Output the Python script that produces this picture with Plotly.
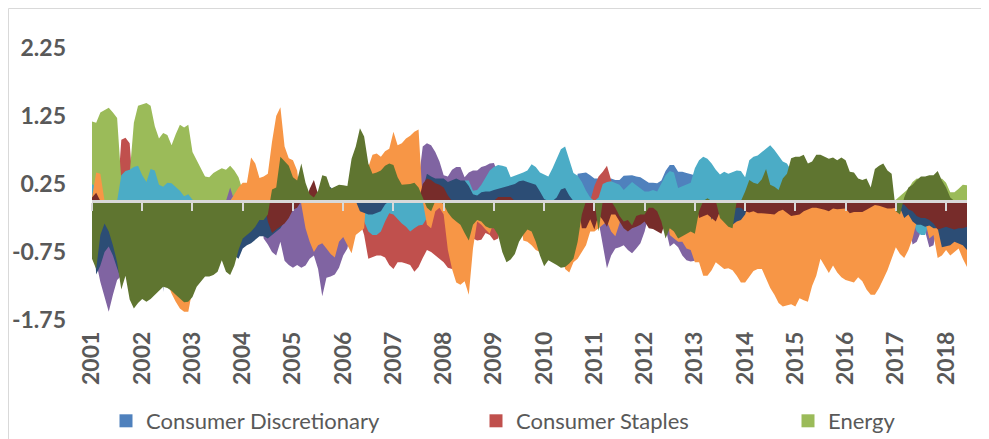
import pandas as pd
import plotly.graph_objects as go

# monthly categories, Jan 2001 .. Jun 2018
months = pd.date_range("2001-01-01", periods=210, freq="MS").strftime("%Y-%m").tolist()
year_ticks = months[::12]
year_labels = [m[:4] for m in year_ticks]

y_ticks = [-1.75, -0.75, 0.25, 1.25, 2.25]
y_labels = ["-1.75", "-0.75", "0.25", "1.25", "2.25"]

# one row per year (2001 .. 2018)
cons_disc = [
    0, 0, 0, 0, 0, 0, 0, 0, 0, 0, 0, 0,
    0, 0, 0, 0, 0, 0, 0, 0, 0, 0, 0, 0,
    0, 0, 0, 0, 0, 0, 0, 0, 0, 0, 0, 0,
    0, 0, 0, 0, 0, 0, 0, 0, 0, 0, 0, 0,
    0, 0, 0, 0, 0, 0, 0, 0, 0, 0, 0, 0,
    0, 0, 0, 0, 0, 0, 0, 0, 0, 0, 0, 0,
    0, 0, 0, 0, 0, 0, 0, 0, 0, 0, 0, 0,
    0, 0, 0, 0, 0, 0, 0, 0, 0, 0, 0, 0,
    0, 0, 0, 0, 0, 0, 0, 0, 0, 0, 0, 0,
    0, 0, 0, 0, 0, 0, 0, 0, 0.40, 0.41, 0.42, 0.38,
    0.33, 0.33, 0.30, 0.30, 0.33, 0.31, 0.31, 0.37, 0.38, 0.38, 0.36, 0.35,
    0.31, 0.27, 0.27, 0.26, 0.30, 0.44, 0.53, 0.53, 0.43, 0.43, 0.41, 0.40,
    0.38, 0.30, 0.20, 0, 0, 0, 0, 0, 0, 0, 0, 0,
    0, 0, 0, 0, 0, 0, 0, 0, 0, 0, 0, 0,
    0, 0, 0, 0, 0, 0, 0, 0, 0, 0, 0, 0,
    0, 0, 0, 0, 0, 0, 0, 0, 0, 0, 0, 0,
    0, 0, 0, 0, 0, 0, 0, 0, 0, 0, 0, 0,
    0, 0, 0, 0, 0, 0,
]

cons_staples = [
    0, 0, 0, 0, 0, 0, 0, 0.90, 0.93, 0.85, 0, 0,
    0, 0, 0, 0, 0, 0, 0, 0, 0, 0, 0, 0,
    0, 0, 0, 0, 0, 0, 0, 0, 0, 0, 0, 0,
    0, 0, 0, 0, 0, 0, 0, 0, 0, 0, 0, 0,
    0, 0, 0, 0, 0, 0, 0, 0, 0, 0, 0, 0,
    0, 0, 0, 0, -0.30, -0.50, -0.85, -0.83, -0.80, -0.80, -0.83, -0.94,
    -1.00, -0.90, -0.90, -0.92, -0.94, -1.04, -0.97, -0.84, -0.72, -0.75, -0.80, -0.85,
    -0.90, -0.98, -1.00, -0.90, -0.80, -0.60, -0.50, -0.55, -0.58, -0.57, -0.47, -0.50,
    -0.58, -0.55, -0.30, 0, 0, 0, 0, 0, 0, 0, 0, 0,
    0, 0, 0, 0, 0, 0, 0, 0, 0, 0, 0, 0,
    0.22, 0.36, 0.43, 0.52, 0.31, 0, 0, 0, 0, 0, 0, 0,
    0, 0, 0, 0, 0, 0, 0, 0, 0, 0, 0, 0,
    0, 0, 0, 0, 0, 0, 0, 0, 0, 0, 0, 0,
    0, 0, 0, 0, 0, 0, 0, 0, 0, 0, 0, 0,
    0, 0, 0, 0, 0, 0, 0, 0, 0, 0, 0, 0,
    0, 0, 0, 0, 0, 0, 0, 0, 0, 0, 0, 0,
    0, 0, 0, 0, 0, 0, 0, 0, 0, 0, 0, 0,
    0, 0, 0, 0, 0, 0,
]

energy = [
    1.17, 1.15, 1.30, 1.33, 1.37, 1.30, 1.22, 0.30, 0.30, 0.40, 1.15, 1.40,
    1.42, 1.44, 1.40, 1.10, 0.92, 1.00, 0.97, 0.82, 0.98, 1.12, 1.08, 1.12,
    0.72, 0.60, 0.48, 0.36, 0.35, 0.41, 0.45, 0.48, 0.46, 0.52, 0.45, 0.35,
    0.15, 0, 0, 0, 0, 0, 0, 0, 0, 0, 0, 0,
    0, 0, 0, 0, 0, 0, 0, 0, 0, 0, 0, 0,
    0, 0, 0, 0, 0, 0, 0, 0, 0, 0, 0, 0,
    0, 0, 0, 0, 0, 0, 0, 0, 0, 0, 0, 0,
    0, 0, 0, 0, 0, 0, 0, 0, 0, 0, 0, 0,
    0, 0, 0, 0, 0, 0, 0, 0, 0, 0, 0, 0,
    0, 0, 0, 0, 0, 0, 0, 0, 0, 0, 0, 0,
    0, 0, 0, 0, 0, 0, 0, 0, 0, 0, 0, 0,
    0, 0, 0, 0, 0, 0, 0, 0, 0, 0, 0, 0,
    0, 0, 0, 0, 0, 0, 0, 0, 0, 0, 0, 0,
    0, 0, 0, 0, 0, 0, 0, 0, 0, 0, 0, 0,
    0, 0, 0, 0, 0, 0, 0, 0, 0, 0, 0, 0,
    0, 0, 0, 0, 0, 0, 0, 0, 0, 0, 0, 0,
    0.02, 0.07, 0.12, 0.18, 0.28, 0.33, 0.32, 0.30, 0.30, 0.30, 0.30, 0.33,
    0.27, 0.13, 0.13, 0.18, 0.24, 0.23,
]

financials = [
    0, -0.90, -1.19, -1.43, -1.63, -1.38, -1.16, -1.10, -1.00, 0, 0, 0,
    0, 0, 0, 0, 0, 0, 0, 0, 0, 0, 0, 0,
    0, 0, 0, 0, 0, 0, 0, 0, 0, 0.20, 0, 0,
    0, 0, 0, 0, 0, -0.55, -0.64, -0.75, -0.80, -0.60, -0.88, -0.94,
    -0.98, -0.94, -0.98, -0.95, -0.85, -0.80, -1.00, -1.40, -1.13, -1.11, -1.08, -0.98,
    -0.80, -0.70, -0.40, 0, 0, 0, 0, 0, 0, 0, 0, 0,
    0, 0, 0, 0, 0, 0, 0.30, 0.80, 0.85, 0.82, 0.72, 0.58,
    0.38, 0.36, 0.46, 0.50, 0.50, 0.35, 0.42, 0.45, 0.45, 0.50, 0.52, 0.55,
    0.56, 0.40, 0, 0, 0, 0, 0, 0, 0, 0, 0, 0,
    0, 0, 0, 0, 0, 0, 0, 0, 0, 0, 0, 0,
    0, -0.30, -0.65, -0.99, -0.80, -0.70, -0.68, -0.65, -0.72, -0.77, -0.70, -0.62,
    -0.45, -0.20, 0, 0, 0, -0.40, -0.67, -0.62, -0.68, -0.80, -0.87, -0.89,
    -0.88, -0.50, 0, 0, 0, 0, 0, 0, 0, 0, 0, 0,
    0, 0, 0, 0, 0, 0, 0, 0, 0, 0, 0, 0,
    0, 0, 0, 0, 0, 0, 0, 0, 0, 0, 0, 0,
    0, 0, 0, 0, 0, 0, 0, 0, 0, 0, 0, 0,
    0, 0, 0, -0.30, -0.64, -0.60, -0.45, -0.45, -0.68, -0.65, -0.30, 0,
    0, 0, 0, 0, 0, 0,
]

health_care = [
    0.25, 0.20, 0, 0, 0, 0, 0, 0.38, 0.44, 0.46, 0.50, 0.52,
    0.38, 0.28, 0.47, 0.45, 0.24, 0.21, 0.27, 0.26, 0.20, 0.15, 0.07, 0.10,
    0.02, 0, 0, 0, 0, 0, 0, 0, 0, 0, 0.10, 0,
    0, 0, 0, 0, 0, 0, 0, 0, 0, 0, 0, 0,
    0, 0, 0, 0, 0, 0, 0, 0, 0, 0, 0, 0,
    0, 0, 0, 0, -0.10, -0.30, -0.45, -0.50, -0.50, -0.45, -0.30, -0.18,
    -0.20, -0.27, -0.33, -0.38, -0.45, -0.40, -0.36, -0.35, -0.25, -0.20, -0.10, 0,
    0, 0, 0, 0, 0, 0.30, 0.30, 0.15, 0.16, 0.24, 0.35, 0.45,
    0.50, 0.53, 0.52, 0.50, 0.35, 0.37, 0.40, 0.42, 0.45, 0.54, 0.50, 0.42,
    0.39, 0.36, 0.48, 0.62, 0.76, 0.80, 0.62, 0.41, 0.37, 0.28, 0.15, 0.05,
    0, 0.05, 0.25, 0.28, 0.29, 0.26, 0.24, 0.16, 0.22, 0.28, 0.23, 0.18,
    0.14, 0.14, 0.16, 0.14, 0.26, 0.38, 0.44, 0.42, 0.19, 0.22, 0.24, 0.27,
    0.48, 0.60, 0.65, 0.62, 0.55, 0.46, 0.39, 0.43, 0.40, 0.43, 0.45, 0.44,
    0.35, 0.60, 0.65, 0.67, 0.72, 0.78, 0.82, 0.75, 0.67, 0.58, 0.55, 0.45,
    0.30, 0, 0, 0, 0, 0, 0, 0, 0, 0, 0, 0,
    0, 0, 0, 0, 0, 0, 0, 0, 0, 0, 0, 0,
    0, 0, 0, 0, -0.30, -0.45, -0.50, -0.50, -0.30, 0, 0, 0,
    0, 0, 0, 0, 0, 0,
]

industrials = [
    0.05, 0.42, 0.40, 0, 0, 0, 0, 0, 0, 0, 0, 0,
    0, 0, 0, 0, 0, 0, -1.20, -1.36, -1.48, -1.58, -1.63, -1.63,
    -1.30, 0, 0, 0, 0, 0, 0, 0, 0, 0, 0.10, 0.20,
    0.27, 0.27, 0.64, 0.55, 0.34, 0.36, 0.40, 0.87, 1.25, 1.38, 0.80, 0.63,
    0.60, 0.45, -0.05, -0.40, -0.60, -0.75, -0.65, -0.62, -0.70, -0.78, -0.83, -0.60,
    -0.53, -0.65, -0.77, -0.50, -0.45, -0.40, 0.50, 0.68, 0.70, 0.65, 0.73, 0.77,
    1.02, 0.82, 0.85, 0.92, 0.96, 1.02, 1.05, 0, -0.35, -0.40, -0.15, -0.10,
    -0.20, -0.72, -1.00, -1.20, -1.23, -1.18, -1.38, -0.70, -0.30, -0.35, -0.42, -0.48,
    -0.30, -0.20, 0, 0, 0, 0, 0, -0.58, -0.60, -0.65, -0.72, -0.75,
    -0.70, -0.60, -0.60, -0.60, -0.60, -1.00, -1.05, -0.90, -0.85, -0.75, -0.65, -0.45,
    -0.45, -0.40, -0.35, -0.30, -0.45, -0.52, -0.33, 0, 0, 0, 0, 0,
    0, 0, 0, 0, 0, 0, -0.50, -0.55, -0.60, -0.60, -0.70, -0.72,
    -0.90, -0.90, -1.10, -1.10, -1.02, -0.90, -0.95, -1.00, -0.99, -1.02, -1.10, -1.20,
    -1.20, -1.12, -1.03, -1.00, -1.00, -1.14, -1.28, -1.38, -1.50, -1.55, -1.53, -1.52,
    -1.55, -1.43, -1.46, -1.48, -1.25, -1.10, -0.85, -0.95, -1.06, -0.95, -1.05, -1.12,
    -1.16, -1.18, -1.20, -1.12, -1.18, -1.30, -1.38, -1.38, -1.28, -1.15, -1.02, -0.85,
    -0.68, -0.78, -0.84, -0.72, -0.55, -0.30, -0.30, -0.30, -0.55, -0.50, -0.84, -0.80,
    -0.72, -0.80, -0.75, -0.70, -0.85, -0.97,
]

info_tech = [
    0, -1.08, -0.95, -0.75, -0.67, -0.80, -0.99, -1.16, -0.90, 0, 0, 0,
    0, 0, 0, 0, 0, -1.34, 0, 0, 0, 0, 0, 0,
    0, 0, 0, 0, 0, 0, 0, 0, 0, 0, -0.80, -0.85,
    -0.70, -0.65, -0.62, -0.57, -0.52, -0.52, -0.55, -0.50, -0.45, -0.40, -0.30, -0.10,
    0, 0, 0, 0, 0, 0, 0, 0, 0.10, 0.21, 0.10, 0,
    0, 0, 0, 0, -0.15, -0.18, -0.20, -0.20, -0.17, -0.15, -0.05, 0,
    0, 0, 0, 0, 0, 0, 0, 0.15, 0.40, 0.36, 0.33, 0.33,
    0.33, 0.28, 0.30, 0.33, 0.30, 0.30, 0.22, 0.10, 0.08, 0.13, 0.14, 0.14,
    0.16, 0.18, 0.19, 0.21, 0.23, 0.25, 0.29, 0.30, 0.28, 0.26, 0.24, 0.14,
    0.03, 0, 0, 0.05, 0.17, 0.19, 0.08, 0, 0, 0, 0, 0,
    0, 0, 0, 0, 0, 0, 0, 0, 0, 0, 0, 0,
    0, 0, 0, 0, 0, 0, 0, 0, 0, 0, 0, 0,
    0, 0, 0, 0, -0.28, 0, 0, 0, 0, -0.35, -0.30, -0.28,
    -0.20, 0, 0, 0, 0, 0, 0, 0, 0, 0, 0, 0,
    0, 0, 0, 0, 0, 0, 0, 0, 0, 0, 0, 0,
    0, 0, 0, 0, 0, 0, 0, 0, 0, 0, 0, 0,
    0, -0.10, -0.25, -0.20, -0.30, -0.35, -0.35, -0.38, -0.36, -0.40, -0.40, -0.68,
    -0.67, -0.65, -0.60, -0.62, -0.65, -0.72,
]

materials = [
    0.05, 0.12, 0, 0, 0, 0, 0, 0, 0, 0, 0, 0,
    0, 0, 0, 0, 0, 0, 0, 0, 0, 0, 0, 0,
    0, 0, 0, 0, 0, 0, 0, 0, 0, 0, 0, 0,
    0, 0, 0, 0, 0, 0, -0.30, -0.47, -0.42, -0.38, -0.33, -0.25,
    -0.13, -0.10, 0, 0, 0.18, 0.31, 0.10, 0, 0, 0, 0, 0,
    0, 0, 0, 0, 0, 0, 0, 0, 0, 0, 0, 0,
    0, 0, 0, 0, 0, 0, 0, 0.25, 0.33, 0.31, 0.26, 0.24,
    0.20, 0.08, 0, 0, 0, 0, 0, 0, 0, 0, 0, 0,
    0, 0.06, 0.06, 0.06, 0.06, 0, 0, 0, 0, 0, 0, 0,
    0, 0, 0, 0, 0, 0, 0, 0, 0, -0.40, -0.40, -0.27,
    -0.42, -0.20, -0.28, -0.38, -0.20, -0.20, -0.30, -0.40, -0.45, -0.40, -0.38, -0.35,
    -0.30, -0.40, -0.41, -0.44, -0.48, -0.30, -0.10, 0, 0, 0, 0, 0,
    0, -0.25, -0.22, -0.20, -0.25, -0.30, -0.15, -0.15, -0.15, -0.15, -0.10, -0.10,
    -0.15, -0.17, -0.15, -0.18, -0.18, -0.18, -0.19, -0.20, -0.15, -0.13, -0.17, -0.22,
    -0.21, -0.20, -0.15, -0.12, -0.10, -0.10, -0.11, -0.13, -0.15, -0.11, -0.12, -0.12,
    -0.11, -0.18, -0.16, -0.16, -0.16, -0.13, -0.09, -0.06, -0.07, -0.09, -0.11, -0.11,
    -0.10, -0.05, -0.05, -0.12, -0.15, -0.22, -0.25, -0.25, -0.28, -0.33, -0.42, -0.40,
    -0.38, -0.40, -0.42, -0.40, -0.40, -0.38,
]

telecom = [
    -0.85, -1.00, -0.50, -0.33, -0.45, -0.65, -0.90, -1.30, -1.10, -1.45, -1.58, -1.50,
    -1.44, -1.48, -1.44, -1.38, -1.33, -1.26, -1.28, -1.32, -1.38, -1.43, -1.49, -1.48,
    -1.41, -1.26, -1.19, -1.11, -1.11, -1.09, -1.04, -0.87, -1.04, -1.09, -0.95, -0.72,
    -0.55, -0.50, -0.45, -0.38, -0.28, -0.28, -0.20, 0.17, 0.20, 0.65, 0.58, 0.52,
    0.35, 0.30, 0.55, 0.27, 0.10, 0.05, 0.15, 0.38, 0.36, 0.18, 0.21, 0.24,
    0.23, 0.22, 0.62, 0.80, 1.07, 0.95, 0.55, 0.40, 0.42, 0.45, 0.52, 0.55,
    0.53, 0.35, 0.24, 0.24, 0.25, 0.27, 0.20, 0.05, -0.10, -0.15, 0, 0,
    -0.05, -0.17, -0.25, -0.30, -0.35, -0.47, -0.58, -0.35, -0.28, -0.30, -0.37, -0.40,
    -0.40, -0.50, -0.75, -0.90, -0.86, -0.78, -0.60, -0.50, -0.42, -0.45, -0.60, -0.80,
    -0.96, -0.87, -0.90, -0.94, -0.98, -0.97, -0.92, -0.85, -0.60, -0.20, 0, 0,
    0, -0.45, 0, 0, 0, -0.10, -0.22, -0.30, -0.28, -0.36, -0.22, -0.20,
    -0.20, -0.10, -0.10, -0.15, -0.30, -0.55, -0.40, -0.45, -0.55, -0.52, -0.48, -0.45,
    -0.48, -0.15, 0, 0.04, 0, 0, -0.25, -0.32, -0.38, -0.40, 0, 0,
    0.14, 0.31, 0.27, 0.25, 0.32, 0.47, 0.24, 0.21, 0.16, 0.33, 0.40, 0.63,
    0.65, 0.65, 0.68, 0.55, 0.58, 0.68, 0.68, 0.65, 0.62, 0.64, 0.60, 0.64,
    0.60, 0.43, 0.42, 0.33, 0.31, 0.33, 0.20, 0.47, 0.52, 0.55, 0.45, 0.40,
    -0.15, -0.20, 0.05, 0.20, 0.24, 0.31, 0.36, 0.36, 0.38, 0.38, 0.44, 0.30,
    0.20, 0.05, 0, 0, 0, 0,
]

# drawing order matters: later series sit on top (Excel area chart)
series = [
    ("Consumer Discretionary", cons_disc, "#4F81BD"),
    ("Consumer Staples", cons_staples, "#C0504D"),
    ("Energy", energy, "#9BBB59"),
    ("Financials", financials, "#8064A2"),
    ("Health Care", health_care, "#4BACC6"),
    ("Industrials", industrials, "#F79646"),
    ("Information Technology", info_tech, "#2C4D75"),
    ("Materials", materials, "#772C2A"),
    ("Telecommunication Services", telecom, "#5F7530"),
]

# the page adds an 8px body margin, so the figure is drawn 8px smaller
OFF = 8
W, H = 989 - OFF, 439 - OFF
L, R, T, B = 92 - OFF, 22, 48 - OFF, 119
plot_w, plot_h = W - L - R, H - T - B
y_min, y_max = -1.75, 2.25


def px_x(px):
    # page pixel -> paper x
    return (px - OFF - L) / plot_w


def px_y(py):
    # page pixel -> paper y
    return (H - B - (py - OFF)) / plot_h


fig = go.Figure()

for name, vals, color in series:
    fig.add_trace(
        go.Scatter(
            x=months,
            y=vals,
            name=name,
            mode="lines",
            line=dict(width=0, color=color),
            fill="tozeroy",
            fillcolor=color,
            showlegend=False,
            hoverinfo="skip",
        )
    )

# dummy trace to carry the zero-line axis with tick marks
fig.add_trace(
    go.Scatter(x=months, y=[None] * len(months), xaxis="x2", showlegend=False, hoverinfo="skip")
)

# legend entries (only the first row is visible in the original)
legend_keys = ["legend", "legend2", "legend3"]
for (name, _, color), key in zip(series[:3], legend_keys):
    fig.add_trace(
        go.Scatter(
            x=[None],
            y=[None],
            mode="markers",
            name=name,
            marker=dict(symbol="square", size=13, color=color),
            legend=key,
        )
    )

tick_font = dict(family="Lato, Carlito, sans-serif", size=23, color="#595959", weight="bold")
legend_font = dict(family="Lato, Carlito, sans-serif", size=22, color="#595959")

legend_common = dict(
    orientation="h",
    yanchor="middle",
    xanchor="left",
    y=px_y(421),
    font=legend_font,
    bgcolor="rgba(0,0,0,0)",
    borderwidth=0,
)

fig.update_layout(
    width=W,
    height=H,
    margin=dict(l=L, r=R, t=T, b=B, autoexpand=False),
    paper_bgcolor="white",
    plot_bgcolor="white",
    xaxis=dict(
        type="category",
        range=[0, len(months) - 1],
        tickvals=year_ticks,
        ticktext=year_labels,
        tickangle=-90,
        ticks="",
        showgrid=False,
        showline=False,
        zeroline=False,
        tickfont=tick_font,
        ticklabelstandoff=6,
        automargin=False,
    ),
    xaxis2=dict(
        type="category",
        overlaying="x",
        anchor="free",
        position=(0 - y_min) / (y_max - y_min),
        range=[0, len(months) - 1],
        tickvals=year_ticks,
        showticklabels=False,
        ticks="outside",
        ticklen=8,
        tickwidth=2,
        tickcolor="#D9D9D9",
        showline=True,
        linecolor="#D9D9D9",
        linewidth=3,
        showgrid=False,
        zeroline=False,
        automargin=False,
    ),
    yaxis=dict(
        range=[y_min, y_max],
        tickvals=y_ticks,
        ticktext=y_labels,
        ticks="",
        showgrid=False,
        zeroline=False,
        showline=False,
        tickfont=tick_font,
        ticklabelstandoff=25,
        automargin=False,
    ),
    legend=dict(legend_common, x=px_x(106)),
    legend2=dict(legend_common, x=px_x(476)),
    legend3=dict(legend_common, x=px_x(788)),
    shapes=[
        dict(
            type="rect",
            xref="paper",
            yref="paper",
            x0=px_x(8.5),
            x1=px_x(983),
            y0=px_y(446),
            y1=px_y(8.5),
            line=dict(color="#D9D9D9", width=1),
            fillcolor="rgba(0,0,0,0)",
            layer="below",
        )
    ],
)

fig.write_html("out.html")
